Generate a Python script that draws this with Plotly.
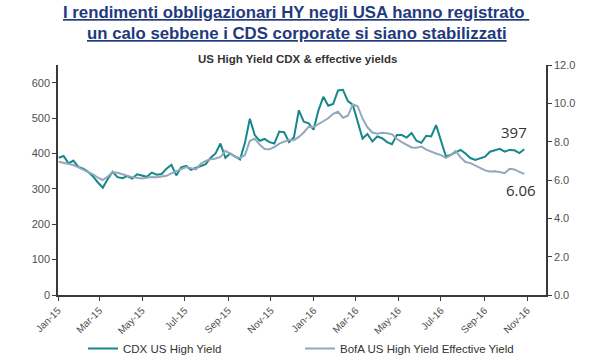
import pandas as pd
import plotly.graph_objects as go

# ---------------- data ----------------
start_date = "2015-01-02"
cdx_hy = [388, 393, 372, 380, 362, 357, 348, 335, 318, 303,
          328, 348, 333, 330, 336, 329, 341, 338, 334, 346,
          340, 342, 357, 368, 338, 361, 365, 354, 360, 366,
          370, 388, 400, 428, 388, 400, 391, 383, 430, 498,
          452, 436, 441, 432, 428, 462, 460, 432, 446, 522,
          490, 485, 467, 522, 560, 535, 540, 578, 580, 548,
          538, 486, 442, 455, 434, 448, 443, 432, 426, 452,
          452, 445, 458, 436, 430, 450, 448, 480, 436, 392,
          396, 404, 410, 400, 387, 382, 387, 391, 405, 408,
          413, 405, 410, 409, 401, 412]
bofa_yield = [6.95, 6.90, 6.82, 6.78, 6.66, 6.55, 6.42, 6.30, 6.12, 6.00,
              6.18, 6.40, 6.38, 6.28, 6.22, 6.15, 6.10, 6.08, 6.12, 6.15,
              6.14, 6.18, 6.22, 6.35, 6.45, 6.55, 6.68, 6.62, 6.55, 6.85,
              7.00, 7.08, 7.12, 7.20, 7.52, 7.38, 7.20, 7.15, 7.30, 8.05,
              8.15, 7.85, 7.62, 7.60, 7.72, 7.90, 8.02, 8.10, 8.08, 8.25,
              8.48, 8.78, 8.76, 8.90, 9.08, 9.22, 9.45, 9.56, 9.25, 9.35,
              9.95, 9.85, 9.20, 8.75, 8.48, 8.42, 8.46, 8.44, 8.38, 8.15,
              7.98, 7.84, 7.70, 7.68, 7.74, 7.58, 7.46, 7.38, 7.30, 7.16,
              7.30, 7.52, 7.18, 6.94, 6.88, 6.75, 6.62, 6.50, 6.44, 6.45,
              6.42, 6.36, 6.58, 6.55, 6.42, 6.32]
dates = pd.date_range(start_date, periods=len(cdx_hy), freq="7D")

x_tick_dates = ["2015-01-01", "2015-03-01", "2015-05-01", "2015-07-01",
                "2015-09-01", "2015-11-01", "2016-01-01", "2016-03-01",
                "2016-05-01", "2016-07-01", "2016-09-01", "2016-11-01"]
x_tick_labels = ["Jan-15", "Mar-15", "May-15", "Jul-15", "Sep-15", "Nov-15",
                 "Jan-16", "Mar-16", "May-16", "Jul-16", "Sep-16", "Nov-16"]
left_ticks = [0, 100, 200, 300, 400, 500, 600]
right_ticks = [0, 2, 4, 6, 8, 10, 12]

last_cdx_label = "397"
last_yield_label = "6.06"
title_line1 = "I rendimenti obbligazionari HY negli USA hanno registrato "
title_line2 = "un calo sebbene i CDS corporate si siano stabilizzati"
subtitle = "US High Yield CDX & effective yields"
name_cdx = "CDX US High Yield"
name_bofa = "BofA US High Yield Effective Yield"

# ---------------- styles ----------------
W, H = 600, 360
L, R, T, B = 58, 54, 65, 65
TEAL = "#16878A"
GREYBLUE = "#93A8BC"
AXIS = "#3a3a3a"
TICKF = dict(family="Liberation Sans, Arial", size=11, color="#505050")
XTICKF = dict(family="Liberation Sans, Arial", size=10, color="#505050")
NAVY = "#1F3A7D"


def px_x(px):
    return (px - L) / (W - L - R)


def px_y(py):
    return (H - B - py) / (H - T - B)


fig = go.Figure()
fig.add_trace(go.Scatter(x=dates, y=cdx_hy, name=name_cdx, mode="lines",
                         line=dict(color=TEAL, width=2), yaxis="y"))
fig.add_trace(go.Scatter(x=dates, y=bofa_yield, name=name_bofa, mode="lines",
                         line=dict(color=GREYBLUE, width=2), yaxis="y2"))

fig.update_layout(
    width=W, height=H,
    margin=dict(l=L, r=R, t=T, b=B, autoexpand=False),
    paper_bgcolor="white", plot_bgcolor="white",
    showlegend=True,
    legend=dict(orientation="h", x=px_x(83), y=px_y(334), xanchor="left", yanchor="top",
                font=dict(family="Liberation Sans, Arial", size=11.5, color="#333333"),
                entrywidth=172, entrywidthmode="pixels",
                bgcolor="rgba(0,0,0,0)", itemwidth=30, tracegroupgap=0),
    xaxis=dict(type="date", range=["2015-01-01", "2016-11-28"],
               tickvals=x_tick_dates, ticktext=x_tick_labels, tickangle=-45,
               tickfont=XTICKF, showgrid=False, zeroline=False, automargin=False,
               showline=True, linecolor=AXIS, linewidth=1.5,
               ticks="outside", ticklen=4, tickcolor=AXIS, tickwidth=1),
    yaxis=dict(range=[0, 650], tickvals=left_ticks, tickfont=TICKF, automargin=False,
               showgrid=False, zeroline=False, showline=True, linecolor=AXIS,
               linewidth=1.5, ticks="outside", ticklen=4, tickcolor=AXIS, tickwidth=1),
    yaxis2=dict(range=[0, 12], tickvals=right_ticks, tickformat=".1f", automargin=False,
                tickfont=TICKF, overlaying="y", side="right",
                showgrid=False, zeroline=False, showline=True, linecolor=AXIS,
                linewidth=1.5, ticks="outside", ticklen=4, tickcolor=AXIS, tickwidth=1),
    annotations=[
        dict(text="<span style='text-decoration:underline'>" + title_line1 + "</span>",
             xref="paper", yref="paper", x=px_x(296), y=px_y(13),
             showarrow=False, xanchor="center", yanchor="middle",
             font=dict(family="Liberation Sans, Arial", size=16.8, color=NAVY, weight="bold")),
        dict(text="<span style='text-decoration:underline'>" + title_line2 + "</span>",
             xref="paper", yref="paper", x=px_x(297), y=px_y(34),
             showarrow=False, xanchor="center", yanchor="middle",
             font=dict(family="Liberation Sans, Arial", size=16.8, color=NAVY, weight="bold")),
        dict(text="<b>" + subtitle + "</b>", xref="paper", yref="paper",
             x=px_x(297), y=px_y(59), showarrow=False, xanchor="center", yanchor="middle",
             font=dict(family="Liberation Sans, Arial", size=11.5, color="#333333")),
        dict(text=last_cdx_label, xref="x", yref="y", x=dates[-3], y=cdx_hy[-1],
             yshift=17, showarrow=False, xanchor="center", yanchor="middle",
             font=dict(family="Open Sans, Lato", size=15, color="#333333")),
        dict(text=last_yield_label, xref="x", yref="y2", x=dates[-1], y=bofa_yield[-1],
             yshift=-16, xshift=-3, showarrow=False, xanchor="center", yanchor="middle",
             font=dict(family="Open Sans, Lato", size=15, color="#333333")),
    ],
)

fig.write_html("out.html", config={"displayModeBar": False},
               post_script="document.body.style.margin='0px';")
